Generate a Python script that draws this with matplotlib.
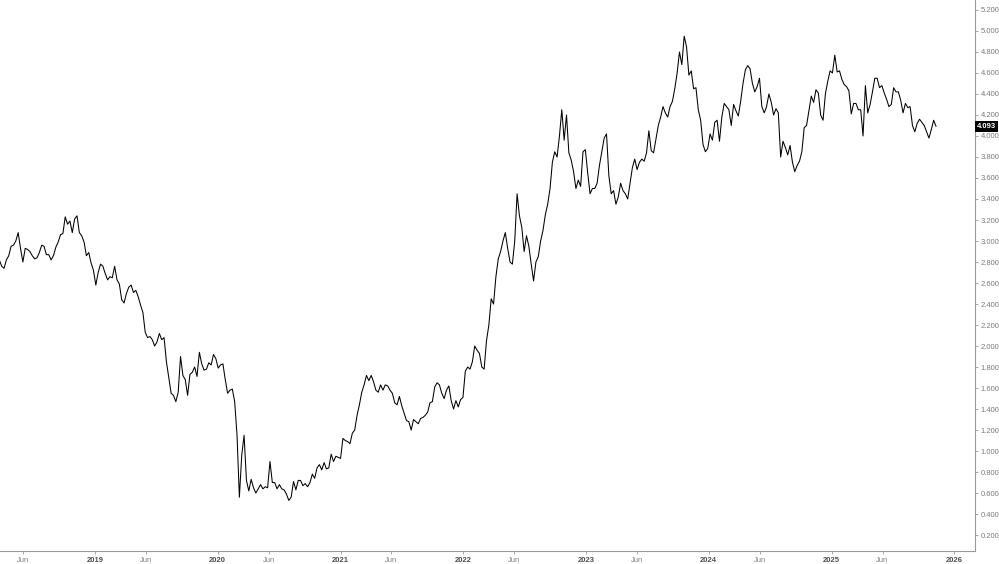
import matplotlib
matplotlib.use('Agg')
import matplotlib.pyplot as plt
import numpy as np
import pandas as pd

plt.rcParams['font.family'] = ['Liberation Sans', 'DejaVu Sans']

# weekly closes of the yield (first week: 23 Mar 2018)
first_week = '2018-03-23'
yields = [
    2.82, 2.76, 2.74, 2.82, 2.86, 2.95, 2.96, 3.00, 3.08, 2.93,
    2.80, 2.93, 2.92, 2.90, 2.86, 2.83, 2.84, 2.89, 2.96, 2.95,
    2.87, 2.87, 2.82, 2.86, 2.94, 2.99, 3.06, 3.07, 3.23, 3.16,
    3.19, 3.08, 3.21, 3.24, 3.08, 3.05, 2.99, 2.86, 2.89, 2.79,
    2.72, 2.58, 2.70, 2.78, 2.76, 2.69, 2.63, 2.66, 2.65, 2.76,
    2.63, 2.59, 2.44, 2.41, 2.50, 2.56, 2.58, 2.51, 2.53, 2.47,
    2.39, 2.32, 2.13, 2.08, 2.09, 2.06, 2.00, 2.04, 2.12, 2.06,
    2.08, 1.85, 1.70, 1.55, 1.53, 1.47, 1.56, 1.90, 1.72, 1.68,
    1.53, 1.73, 1.75, 1.80, 1.71, 1.94, 1.83, 1.77, 1.78, 1.84,
    1.82, 1.92, 1.88, 1.79, 1.82, 1.83, 1.68, 1.55, 1.58, 1.59,
    1.47, 1.15, 0.56, 0.96, 1.15, 0.72, 0.62, 0.73, 0.65, 0.60,
    0.64, 0.68, 0.64, 0.66, 0.65, 0.90, 0.70, 0.70, 0.64, 0.68,
    0.64, 0.63, 0.59, 0.53, 0.56, 0.71, 0.63, 0.72, 0.72, 0.67,
    0.69, 0.66, 0.70, 0.78, 0.74, 0.84, 0.87, 0.82, 0.89, 0.83,
    0.84, 0.97, 0.90, 0.95, 0.94, 0.93, 1.12, 1.10, 1.09, 1.07,
    1.17, 1.20, 1.34, 1.44, 1.56, 1.63, 1.72, 1.67, 1.72, 1.66,
    1.58, 1.56, 1.63, 1.58, 1.63, 1.62, 1.58, 1.55, 1.46, 1.44,
    1.52, 1.43, 1.36, 1.29, 1.28, 1.20, 1.30, 1.28, 1.26, 1.31,
    1.32, 1.34, 1.37, 1.46, 1.47, 1.61, 1.65, 1.63, 1.55, 1.50,
    1.58, 1.62, 1.48, 1.40, 1.48, 1.42, 1.49, 1.51, 1.76, 1.80,
    1.78, 1.85, 2.00, 1.96, 1.93, 1.80, 1.78, 2.05, 2.20, 2.45,
    2.40, 2.66, 2.83, 2.90, 3.00, 3.08, 2.93, 2.80, 2.78, 3.00,
    3.45, 3.24, 3.13, 2.90, 3.05, 2.95, 2.78, 2.62, 2.80, 2.85,
    3.00, 3.10, 3.25, 3.35, 3.50, 3.75, 3.85, 3.80, 4.00, 4.25,
    3.96, 4.20, 3.84, 3.77, 3.66, 3.50, 3.58, 3.52, 3.85, 3.87,
    3.65, 3.45, 3.50, 3.50, 3.55, 3.72, 3.85, 3.98, 4.02, 3.62,
    3.45, 3.48, 3.35, 3.42, 3.55, 3.48, 3.45, 3.40, 3.55, 3.70,
    3.78, 3.68, 3.75, 3.78, 3.76, 3.84, 4.05, 3.86, 3.84, 3.97,
    4.10, 4.18, 4.28, 4.22, 4.18, 4.28, 4.33, 4.45, 4.60, 4.80,
    4.68, 4.95, 4.85, 4.58, 4.62, 4.45, 4.46, 4.25, 4.15, 3.92,
    3.85, 3.88, 4.02, 3.96, 4.13, 4.15, 3.95, 4.18, 4.31, 4.28,
    4.25, 4.10, 4.30, 4.24, 4.19, 4.33, 4.50, 4.63, 4.67, 4.64,
    4.50, 4.42, 4.47, 4.55, 4.28, 4.22, 4.28, 4.40, 4.32, 4.20,
    4.26, 4.22, 3.80, 3.95, 3.89, 3.82, 3.91, 3.75, 3.66, 3.72,
    3.76, 3.85, 4.08, 4.10, 4.24, 4.38, 4.32, 4.44, 4.41, 4.20,
    4.15, 4.40, 4.52, 4.62, 4.60, 4.77, 4.61, 4.62, 4.54, 4.49,
    4.47, 4.43, 4.21, 4.31, 4.31, 4.25, 4.25, 4.00, 4.48, 4.22,
    4.30, 4.42, 4.55, 4.55, 4.46, 4.48, 4.41, 4.35, 4.28, 4.30,
    4.46, 4.42, 4.42, 4.34, 4.22, 4.31, 4.27, 4.28, 4.10, 4.04,
    4.12, 4.16, 4.13, 4.10, 4.04, 3.98, 4.06, 4.15, 4.093,
]
last_value = 4.093

xtick_dates = ['2018-06-01', '2019-01-01', '2019-06-01', '2020-01-01',
               '2020-06-01', '2021-01-01', '2021-06-01', '2022-01-01',
               '2022-06-01', '2023-01-01', '2023-06-01', '2024-01-01',
               '2024-06-01', '2025-01-01', '2025-06-01', '2026-01-01']
xtick_labels = ['Jun', '2019', 'Jun', '2020', 'Jun', '2021', 'Jun', '2022',
                'Jun', '2023', 'Jun', '2024', 'Jun', '2025', 'Jun', '2026']
ytick_values = [0.2, 0.4, 0.6, 0.8, 1.0, 1.2, 1.4, 1.6, 1.8, 2.0, 2.2, 2.4, 2.6,
                2.8, 3.0, 3.2, 3.4, 3.6, 3.8, 4.0, 4.2, 4.4, 4.6, 4.8, 5.0, 5.2]

dates = pd.date_range(first_week, periods=len(yields), freq='7D')

fig = plt.figure(figsize=(9.99, 5.64), dpi=100)
ax = fig.add_axes([0, 13 / 564, 975 / 999, 551 / 564])

ax.plot(dates, yields, color='black', lw=0.75)

ax.set_xlim(pd.Timestamp('2018-03-25'), pd.Timestamp('2026-03-03'))
ax.set_ylim(0.048, 5.295)

# price scale on the right
ax.yaxis.tick_right()
ax.set_yticks(ytick_values)
ax.set_yticklabels(['%.3f' % v for v in ytick_values])
ax.tick_params(axis='y', direction='out', length=2.5, width=0.6, color='#999999',
               labelsize=5.5, labelcolor='#7a7a7a', pad=1.5)

ax.set_xticks(pd.to_datetime(xtick_dates))
ax.set_xticklabels(xtick_labels)
ax.tick_params(axis='x', direction='out', length=2.5, width=0.6, color='#999999',
               labelsize=5.5, pad=1.5)
for lab in ax.get_xticklabels():
    if lab.get_text() == 'Jun':
        lab.set_color('#808080')
    else:
        lab.set_color('#4d4d4d')
        lab.set_fontweight('bold')

for side in ['left', 'top']:
    ax.spines[side].set_visible(False)
for side in ['right', 'bottom']:
    ax.spines[side].set_color('#9a9a9a')
    ax.spines[side].set_linewidth(0.8)

# last price tag
ax.text(1.002, last_value, '%.3f' % last_value, transform=ax.get_yaxis_transform(),
        ha='left', va='center', color='white', fontsize=5.5, fontweight='bold',
        bbox=dict(boxstyle='square,pad=0.25', fc='black', ec='none'), clip_on=False)

plt.savefig('out.png', dpi=100)
